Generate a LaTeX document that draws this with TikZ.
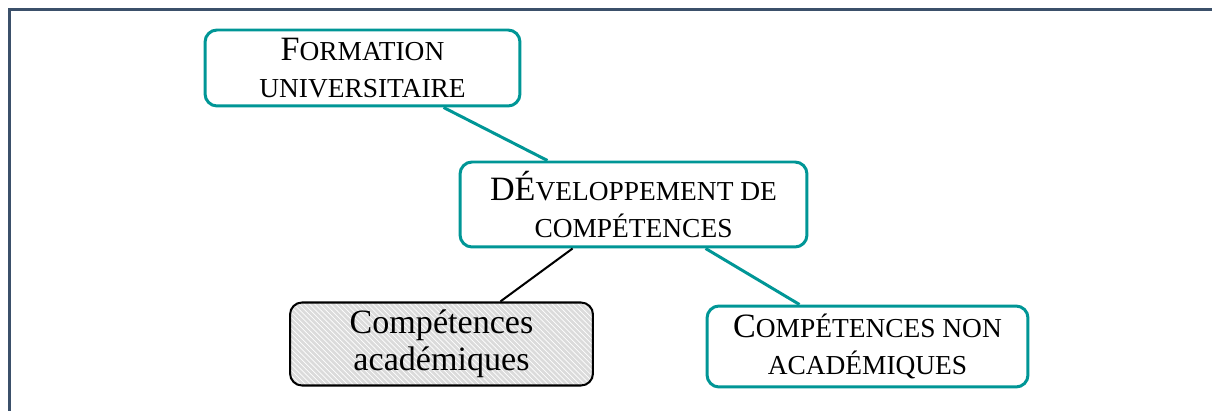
\documentclass[tikz,border=0pt]{standalone}
\usepackage{fontspec}
\setmainfont{Liberation Serif}
\usetikzlibrary{calc,positioning,patterns}
\definecolor{sarcelle}{RGB}{0,150,150}
\definecolor{cadre}{RGB}{59,80,106}
\newcommand{\petcap}[1]{{\fontsize{15.6pt}{21pt}\selectfont #1}}

\begin{document}
\begin{tikzpicture}[x=0.02cm,y=-0.02cm,
			boite/.style={rectangle, rounded corners=0.24cm, draw=sarcelle, line width=1.7pt, align=center, inner sep=0pt, font=\fontsize{19.4pt}{21pt}\selectfont},
			grise/.style={boite, draw=black, line width=1.15pt, preaction={fill=gray!28}, pattern=north west lines, pattern color=white},
			lien/.style={draw=sarcelle, line width=1.7pt}
			]

			% Le cadre
			\useasboundingbox (0,0) rectangle (1212,411);
			\draw[cadre, line width=1.4pt] (1212,9.5) -- (9.5,9.5) -- (9.5,411);

			% Les boîtes
			\node[boite, minimum width=6.3cm, minimum height=1.52cm] (form) at (362.5,68) {F\petcap{ORMATION}\\\petcap{UNIVERSITAIRE}};
			\node[boite, minimum width=6.94cm, minimum height=1.7cm] (dev) at (633.5,204.5) {DÉ\petcap{VELOPPEMENT DE}\\\petcap{COMPÉTENCES}};
			\node[grise, minimum width=6.06cm, minimum height=1.66cm] (acad) at (441.5,344) {Compétences\\académiques};
			\node[boite, minimum width=6.42cm, minimum height=1.62cm] (nonacad) at (867.5,346.5) {C\petcap{OMPÉTENCES NON}\\\petcap{ACADÉMIQUES}};

			% Les liens
			\draw[lien] ($(form.south west)!0.755!(form.south east)$) -- ($(dev.north west)!0.254!(dev.north east)$);
			\draw[black, line width=1.15pt] ($(dev.south west)!0.326!(dev.south east)$) -- ($(acad.north west)!0.693!(acad.north east)$);
			\draw[lien] ($(dev.south west)!0.706!(dev.south east)$) -- ($(nonacad.north west)!0.29!(nonacad.north east)$);
		\end{tikzpicture}
\end{document}
